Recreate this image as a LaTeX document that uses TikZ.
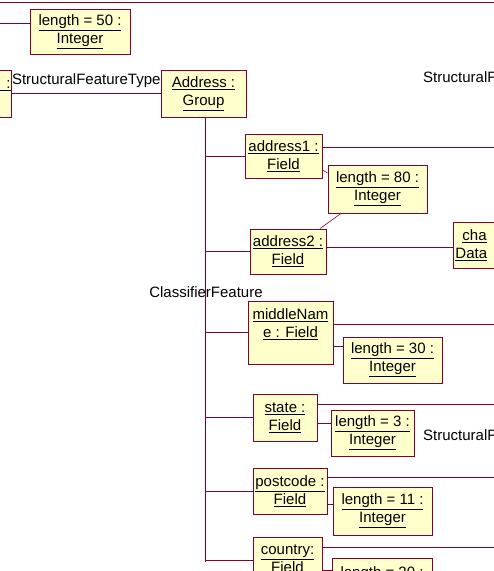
\documentclass[tikz,border=0pt]{standalone}
\usepackage{fontspec}
\setmainfont{Liberation Sans}
\usetikzlibrary{positioning}
\definecolor{umlline}{RGB}{128,0,48}
\definecolor{umlfill}{RGB}{255,255,204}
\newcommand{\objname}[1]{\underline{#1}}

\begin{document}
\begin{tikzpicture}[x=1pt,y=-1pt,
  obj/.style={
    rectangle, draw=umlline, fill=umlfill, line width=0.9pt,
    align=center, inner sep=1pt, font=\fontsize{15}{18}\selectfont
  },
  link/.style={draw=umlline, line width=0.8pt},
  thinlink/.style={draw=umlline, line width=0.6pt},
  role/.style={font=\fontsize{15}{18}\selectfont, inner sep=0pt}
]
\useasboundingbox (0,0) rectangle (494,571);
\clip (0,0) rectangle (494,571);
\coordinate (rim) at (500,0);

% objects
\node[obj, minimum width=100pt, minimum height=45pt] (len50) at (80,31.5)
  {\objname{length = 50 :}\\\objname{Integer}};
\node[obj, minimum height=47pt, anchor=east] (owner) at (12,93.5)
  {\objname{\hphantom{Person }:}\\\mbox{}};
\node[obj, minimum width=85pt, minimum height=47pt] (group) at (203.5,93.5)
  {\objname{Address :}\\\objname{Group}};
\node[obj, minimum width=77pt, minimum height=44pt] (addrA) at (283.5,156)
  {\objname{address1 :}\\\objname{Field}};
\node[obj, minimum width=99pt, minimum height=48pt] (len80) at (377.5,189)
  {\objname{length = 80 :}\\\objname{Integer}};
\node[obj, minimum width=76pt, minimum height=45pt] (addrB) at (288,251.5)
  {\objname{address2 :}\\\objname{Field}};
\node[obj, anchor=west, text width=70pt, align=left, inner xsep=2pt,
      minimum height=46pt] (chartype) at (453,245)
  {\hspace*{7pt}\objname{cha}\\\objname{Data}};
\node[obj, minimum width=85pt, minimum height=63pt] (middle) at (290.5,332.5)
  {\objname{middleNam}\\\objname{e : Field}\\\mbox{}};
\node[obj, minimum width=99pt, minimum height=46pt] (len30) at (392.5,360)
  {\objname{length = 30 :}\\\objname{Integer}};
\node[obj, minimum width=64pt, minimum height=47pt] (state) at (285,417.5)
  {\objname{state :}\\\objname{Field}};
\node[obj, minimum width=83pt, minimum height=46pt] (len3) at (372.5,433)
  {\objname{length = 3 :}\\\objname{Integer}};
\node[obj, minimum width=74pt, minimum height=46pt] (post) at (290,491)
  {\objname{postcode :}\\\objname{Field}};
\node[obj, minimum width=99pt, minimum height=48pt] (len11) at (382.5,511)
  {\objname{length = 11 :}\\\objname{Integer}};
\node[obj, minimum width=69pt, minimum height=46pt] (country) at (287.5,560)
  {\objname{country:}\\\objname{Field}};
\node[obj, minimum width=100pt, minimum height=46pt] (len20) at (382,581)
  {\objname{length = 20 :}\\\mbox{}};

% role names
\node[role] (clsfeat) at (206,292) {ClassifierFeature};
\node[role, anchor=west] (sfA) at (423,77) {StructuralF};
\node[role, anchor=west] (sfB) at (423,435) {StructuralF};

% links
\coordinate (topL) at (0,2);
\coordinate (topR) at (494,2);
\draw[link] (topL) -- (topR);
\coordinate (lenin) at (0,23);
\draw[link] (lenin) -- (lenin -| len50.west);
\draw[link] (owner.east) -- node[role, above=5pt] {StructuralFeatureType} (group.west);

\coordinate (trunkend) at (205,562);
\draw[link] (trunkend |- group.south) -- (trunkend);
\foreach \f in {addrA, addrB, middle, state, post, country}
  \draw[link] (\f.west) -- (\f.west -| trunkend);

\foreach \f/\d in {addrA/9, middle/8.5, state/13.5, post/14, country/13}
  \draw[link] ([yshift=\d pt]\f.east) -- ([yshift=\d pt]\f.east -| rim);
\draw[link] ([yshift=4.5pt]addrB.east) -- ([yshift=4.5pt]addrB.east -| chartype.west);

\foreach \f/\l/\d in {middle/len30/14, state/len3/10, post/len11/7, country/len20/11}
  \draw[link] ([yshift=\d pt]\l.west) -- ([yshift=\d pt]\l.west -| \f.east);
\draw[thinlink] ([yshift=-14pt]addrA.east) -- ([yshift=16pt]len80.west);
\draw[thinlink] ([xshift=-36.5pt]len80.south) -- ([xshift=32pt]addrB.north);
\end{tikzpicture}
\end{document}
